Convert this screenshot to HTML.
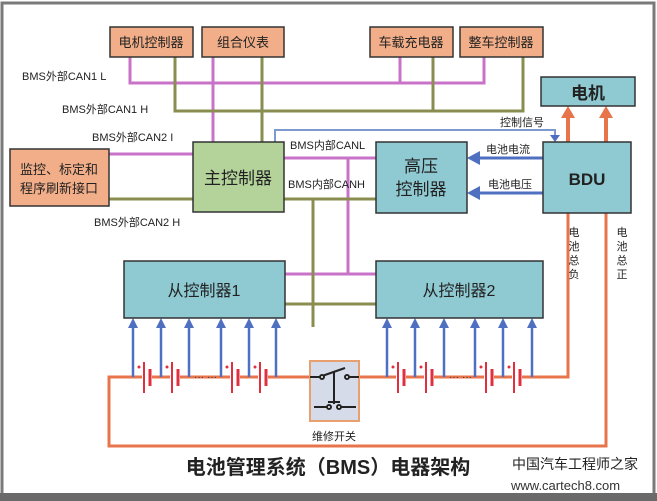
<!DOCTYPE html>
<html><head><meta charset="utf-8"><style>
html,body{margin:0;padding:0;background:#fff}
svg{display:block}
text{font-family:"Liberation Sans","Noto Sans CJK SC",sans-serif}
</style></head><body>
<svg width="657" height="501" viewBox="0 0 657 501" xmlns="http://www.w3.org/2000/svg">
<rect x="0" y="0" width="657" height="501" fill="#fff"/>
<rect x="2" y="3" width="652" height="496" fill="none" stroke="#7a7a7a" stroke-width="3"/>
<rect x="0" y="493" width="657" height="8" fill="#6a6a6a"/>

<g fill="none" stroke-width="3">
<polyline points="130,57 130,83 484,83 484,57" stroke="#c873c8"/>
<line x1="213" y1="57" x2="213" y2="142" stroke="#c873c8"/>
<line x1="400" y1="57" x2="400" y2="83" stroke="#c873c8"/>
<polyline points="175,57 175,111 523,111 523,57" stroke="#8a8d50"/>
<line x1="262" y1="57" x2="262" y2="142" stroke="#8a8d50"/>
<line x1="433" y1="57" x2="433" y2="111" stroke="#8a8d50"/>
<line x1="109" y1="154" x2="193" y2="154" stroke="#c873c8"/>
<line x1="109" y1="199" x2="193" y2="199" stroke="#8a8d50"/>
<line x1="284" y1="158" x2="376" y2="158" stroke="#c873c8"/>
<line x1="348" y1="158" x2="348" y2="274" stroke="#c873c8"/>
<line x1="285" y1="274" x2="376" y2="274" stroke="#c873c8"/>
<line x1="284" y1="199" x2="376" y2="199" stroke="#8a8d50"/>
<line x1="313" y1="199" x2="313" y2="327" stroke="#8a8d50"/>
<line x1="285" y1="304" x2="376" y2="304" stroke="#8a8d50"/>
<polyline points="275,142 275,130 555,130 555,137" stroke="#7d9ad0" stroke-width="2"/>
<line x1="568" y1="142" x2="568" y2="114" stroke="#e8744c" stroke-width="4"/>
<line x1="606" y1="142" x2="606" y2="114" stroke="#e8744c" stroke-width="4"/>
<polyline points="568,213 568,377 109,377 109,446 606,446 606,213" stroke="#e8744c"/>
<line x1="543" y1="158" x2="478" y2="158" stroke="#4f6fc0" stroke-width="3"/>
<line x1="543" y1="193" x2="478" y2="193" stroke="#4f6fc0" stroke-width="3"/>
</g>
<g fill="#4f6fc0">
<polygon points="467,158 480,151 480,165"/>
<polygon points="467,193 480,186 480,200"/>
<polygon points="550,135 560,135 555,142"/>
</g>
<g fill="#e8744c">
<polygon points="568,106 561,118 575,118"/>
<polygon points="606,106 599,118 613,118"/>
</g>

<g stroke="#4f6fc0" stroke-width="2.5" fill="#4f6fc0">
<line x1="133" y1="377" x2="133" y2="326"/><polygon points="133,318 128,328 138,328" stroke="none"/>
<line x1="161" y1="377" x2="161" y2="326"/><polygon points="161,318 156,328 166,328" stroke="none"/>
<line x1="189" y1="377" x2="189" y2="326"/><polygon points="189,318 184,328 194,328" stroke="none"/>
<line x1="221" y1="377" x2="221" y2="326"/><polygon points="221,318 216,328 226,328" stroke="none"/>
<line x1="249" y1="377" x2="249" y2="326"/><polygon points="249,318 244,328 254,328" stroke="none"/>
<line x1="276" y1="377" x2="276" y2="326"/><polygon points="276,318 271,328 281,328" stroke="none"/>
<line x1="387" y1="377" x2="387" y2="326"/><polygon points="387,318 382,328 392,328" stroke="none"/>
<line x1="415" y1="377" x2="415" y2="326"/><polygon points="415,318 410,328 420,328" stroke="none"/>
<line x1="444" y1="377" x2="444" y2="326"/><polygon points="444,318 439,328 449,328" stroke="none"/>
<line x1="475" y1="377" x2="475" y2="326"/><polygon points="475,318 470,328 480,328" stroke="none"/>
<line x1="503" y1="377" x2="503" y2="326"/><polygon points="503,318 498,328 508,328" stroke="none"/>
<line x1="532" y1="377" x2="532" y2="326"/><polygon points="532,318 527,328 537,328" stroke="none"/>
</g>

<g stroke="#e03040" fill="#e03040">
<g id="c"><rect x="142" y="370" width="10" height="14" fill="#fff" stroke="none"/><line x1="144" y1="362" x2="144" y2="393" stroke-width="2"/><line x1="150" y1="369" x2="150" y2="386" stroke-width="3"/><circle cx="139" cy="367" r="1.5" stroke="none"/></g>
<use href="#c" x="28"/><use href="#c" x="88"/><use href="#c" x="116"/>
<use href="#c" x="254"/><use href="#c" x="282"/><use href="#c" x="342"/><use href="#c" x="370"/>
</g>
<g fill="#333" font-size="10"><text x="194" y="380">···</text><text x="207" y="380">···</text><text x="449" y="380">···</text><text x="462" y="380">···</text></g>

<rect x="310" y="361" width="49" height="60" fill="#d6dbea" stroke="#e8a070" stroke-width="2"/>
<g stroke="#222" stroke-width="2" fill="none">
<line x1="310" y1="377" x2="320" y2="377"/><line x1="322" y1="376" x2="345" y2="368"/><line x1="348" y1="377" x2="359" y2="377"/>
<circle cx="322" cy="377" r="2" fill="#fff"/><circle cx="347" cy="377" r="2" fill="#fff"/>
<line x1="334" y1="372" x2="334" y2="404"/>
<line x1="314" y1="407" x2="328" y2="407"/><line x1="340" y1="407" x2="356" y2="407"/>
<line x1="328" y1="402" x2="340" y2="402"/>
<circle cx="329" cy="407" r="2" fill="#fff"/><circle cx="339" cy="407" r="2" fill="#fff"/>
</g>
<text x="334" y="440" font-size="11" text-anchor="middle" fill="#222">维修开关</text>

<g stroke="#333" stroke-width="1.5">
<rect x="110" y="27" width="83" height="30" fill="#f2ae88"/>
<rect x="202" y="27" width="82" height="30" fill="#f2ae88"/>
<rect x="370" y="27" width="83" height="30" fill="#f2ae88"/>
<rect x="460" y="27" width="83" height="30" fill="#f2ae88"/>
<rect x="10" y="149" width="99" height="57" fill="#f2ae88"/>
<rect x="541" y="77" width="94" height="29" fill="#8fcad3"/>
<rect x="193" y="142" width="91" height="70" fill="#b3d39b"/>
<rect x="376" y="142" width="91" height="71" fill="#8fcad3"/>
<rect x="543" y="142" width="88" height="71" fill="#8fcad3"/>
<rect x="124" y="261" width="161" height="57" fill="#8fcad3"/>
<rect x="376" y="261" width="167" height="57" fill="#8fcad3"/>
</g>
<g fill="#222" text-anchor="middle">
<text x="151" y="47" font-size="13">电机控制器</text>
<text x="243" y="47" font-size="13">组合仪表</text>
<text x="411" y="47" font-size="13">车载充电器</text>
<text x="501" y="47" font-size="13">整车控制器</text>
<text x="59" y="174" font-size="13">监控、标定和</text>
<text x="59" y="193" font-size="13">程序刷新接口</text>
<text x="588" y="99" font-size="17" font-weight="bold">电机</text>
<text x="238" y="184" font-size="17">主控制器</text>
<text x="421" y="172" font-size="17">高压</text>
<text x="421" y="195" font-size="17">控制器</text>
<text x="587" y="185" font-size="17" font-weight="bold">BDU</text>
<text x="204" y="296" font-size="16">从控制器1</text>
<text x="459" y="296" font-size="16">从控制器2</text>
</g>
<g fill="#222" font-size="11">
<text x="22" y="80">BMS外部CAN1 L</text>
<text x="62" y="113">BMS外部CAN1 H</text>
<text x="92" y="141">BMS外部CAN2 I</text>
<text x="94" y="226">BMS外部CAN2 H</text>
<text x="290" y="149">BMS内部CANL</text>
<text x="288" y="188">BMS内部CANH</text>
<text x="500" y="126">控制信号</text>
<text x="486" y="153">电池电流</text>
<text x="488" y="188">电池电压</text>
</g>
<g fill="#222" font-size="11" text-anchor="middle">
<text x="574" y="236">电</text><text x="574" y="250">池</text><text x="574" y="264">总</text><text x="574" y="278">负</text>
<text x="622" y="236">电</text><text x="622" y="250">池</text><text x="622" y="264">总</text><text x="622" y="278">正</text>
</g>
<text x="328" y="474" font-size="20" font-weight="bold" text-anchor="middle" fill="#222">电池管理系统（BMS）电器架构</text>
<text x="512" y="469" font-size="14" fill="#222" font-family="'Noto Serif CJK SC',serif">中国汽车工程师之家</text>
<text x="511" y="490" font-size="13" fill="#333" font-family="'Liberation Mono',monospace">www.cartech8.com</text>
</svg>
</body></html>
